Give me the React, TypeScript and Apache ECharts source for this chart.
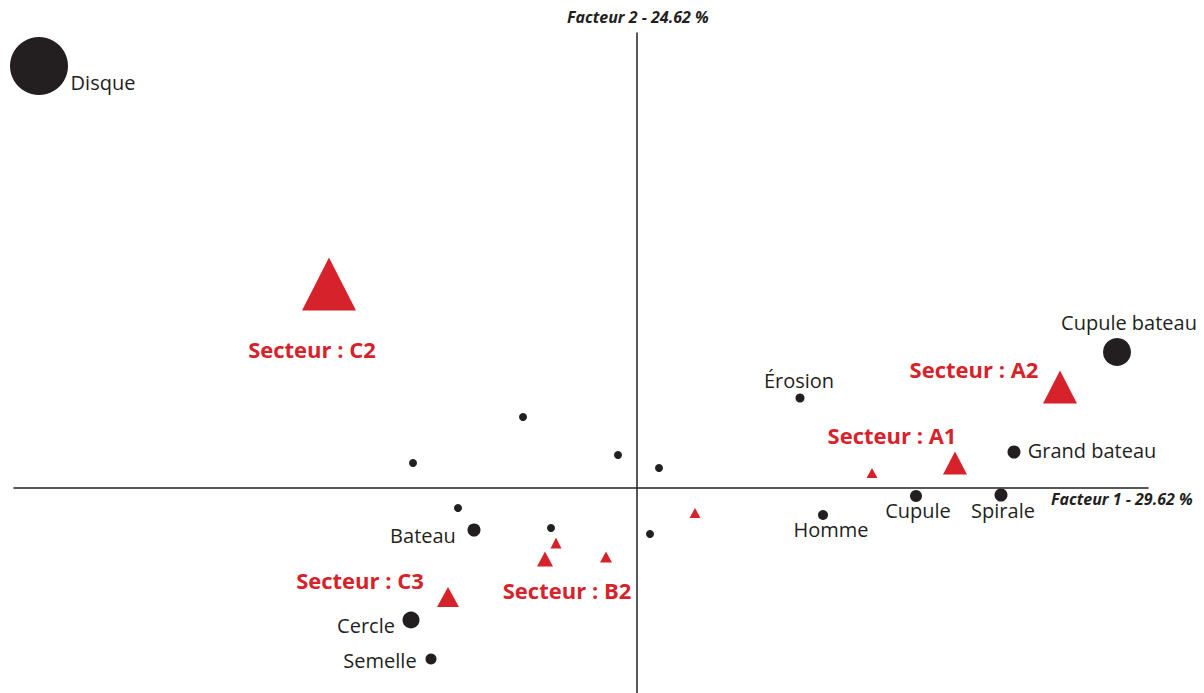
import React, { useEffect, useRef } from "react";
import * as echarts from "echarts";

// Factor scores (Facteur 1, Facteur 2)
const motifNames = ["Disque", "Cupule bateau", "Érosion", "Grand bateau", "Cupule", "Spirale", "Homme", "Bateau", "Cercle", "Semelle"];
const motifF1 = [-2.99, 2.4, 0.815, 1.885, 1.395, 1.82, 0.93, -0.815, -1.13, -1.03];
const motifF2 = [2.11, 0.68, 0.45, 0.18, -0.04, -0.035, -0.135, -0.21, -0.66, -0.855];

const minorMotifF1 = [-0.57, -1.12, -0.095, 0.11, -0.895, -0.43, 0.065];
const minorMotifF2 = [0.355, 0.125, 0.165, 0.1, -0.1, -0.2, -0.23];

const sectorNames = ["Secteur : C2", "Secteur : A2", "Secteur : A1", "Secteur : C3", "Secteur : B2"];
const sectorF1 = [-1.54, 2.115, 1.59, -0.945, -0.46];
const sectorF2 = [1.02, 0.505, 0.125, -0.545, -0.355];

const minorSectorF1 = [1.175, -0.405, -0.155, 0.29];
const minorSectorF2 = [0.075, -0.275, -0.345, -0.125];

const axisTitleX = "Facteur 1 - 29.62 %";
const axisTitleY = "Facteur 2 - 24.62 %";

// styling (sizes & label offsets in px)
const motifStyle: Record<string, { size: number; off: [number, number] }> = {
  "Disque": { size: 58, off: [64, 16] },
  "Cupule bateau": { size: 28, off: [12, -30] },
  "Érosion": { size: 9, off: [-1, -18] },
  "Grand bateau": { size: 13, off: [78, -2] },
  "Cupule": { size: 12, off: [2, 14] },
  "Spirale": { size: 13, off: [2, 15] },
  "Homme": { size: 10, off: [8, 14] },
  "Bateau": { size: 13, off: [-51, 5] },
  "Cercle": { size: 17, off: [-45, 5] },
  "Semelle": { size: 11, off: [-51, 1] },
};
const sectorStyle: Record<string, { size: [number, number]; off: [number, number] }> = {
  "Secteur : C2": { size: [54, 53], off: [-17, 65] },
  "Secteur : A2": { size: [34, 33], off: [-86, -18] },
  "Secteur : A1": { size: [24, 23], off: [-63, -28] },
  "Secteur : C3": { size: [22, 20], off: [-88, -17] },
  "Secteur : B2": { size: [16, 15], off: [22, 31] },
};
const minorSectorSizes: [number, number][] = [[11, 10], [11, 11], [12, 11], [11, 10]];

const BLACK = "#231f20";
const RED = "#d6232b";
const FONT = "'Open Sans', 'Noto Sans', sans-serif";

export default function App() {
  const ref = useRef<HTMLDivElement>(null);
  useEffect(() => {
    if (!ref.current) return;
    const chart = echarts.init(ref.current, undefined, { renderer: "svg" });

    const motifData = motifNames.map((n, i) => ({
      name: n,
      value: [motifF1[i], motifF2[i]],
      symbolSize: motifStyle[n].size,
      label: { offset: motifStyle[n].off },
    }));
    const minorMotifData = minorMotifF1.map((x, i) => [x, minorMotifF2[i]]);
    const sectorData = sectorNames.map((n, i) => ({
      name: n,
      value: [sectorF1[i], sectorF2[i]],
      symbolSize: sectorStyle[n].size,
      label: { offset: sectorStyle[n].off },
    }));
    const minorSectorData = minorSectorF1.map((x, i) => ({
      value: [x, minorSectorF2[i]],
      symbolSize: minorSectorSizes[i],
    }));

    const axisLine = { show: true, onZero: true, lineStyle: { color: BLACK, width: 1.5 } };

    chart.setOption({
      animation: false,
      backgroundColor: "#ffffff",
      grid: { left: 14, right: 56, top: 33, bottom: 0 },
      xAxis: {
        type: "value",
        min: -3.115,
        max: 2.555,
        axisLine,
        axisTick: { show: false },
        axisLabel: { show: false },
        splitLine: { show: false },
      },
      yAxis: {
        type: "value",
        min: -1.025,
        max: 2.275,
        axisLine,
        axisTick: { show: false },
        axisLabel: { show: false },
        splitLine: { show: false },
      },
      graphic: [
        {
          type: "text",
          left: 567,
          top: 9,
          style: { text: axisTitleY, font: `italic bold 16px ${FONT}`, fill: BLACK },
        },
        {
          type: "text",
          left: 1051,
          top: 491,
          style: { text: axisTitleX, font: `italic bold 16px ${FONT}`, fill: BLACK },
        },
      ],
      series: [
        {
          type: "scatter",
          symbol: "circle",
          symbolSize: 8,
          itemStyle: { color: BLACK, opacity: 1 },
          data: minorMotifData,
          silent: true,
        },
        {
          type: "scatter",
          symbol: "circle",
          itemStyle: { color: BLACK, opacity: 1 },
          data: motifData,
          label: {
            show: true,
            position: "inside",
            formatter: "{b}",
            color: BLACK,
            fontFamily: FONT,
            fontSize: 20,
            textBorderWidth: 0,
          },
        },
        {
          type: "scatter",
          symbol: "triangle",
          itemStyle: { color: RED, opacity: 1 },
          data: minorSectorData,
        },
        {
          type: "scatter",
          symbol: "triangle",
          itemStyle: { color: RED, opacity: 1 },
          data: sectorData,
          label: {
            show: true,
            position: "inside",
            formatter: "{b}",
            color: RED,
            fontFamily: FONT,
            fontWeight: "bold",
            fontSize: 22,
            textBorderWidth: 0,
          },
        },
      ],
    });
    return () => chart.dispose();
  }, []);

  return (
    <div
      ref={ref}
      style={{ position: "fixed", left: 0, top: 0, width: 1204, height: 693, background: "#fff" }}
    />
  );
}
